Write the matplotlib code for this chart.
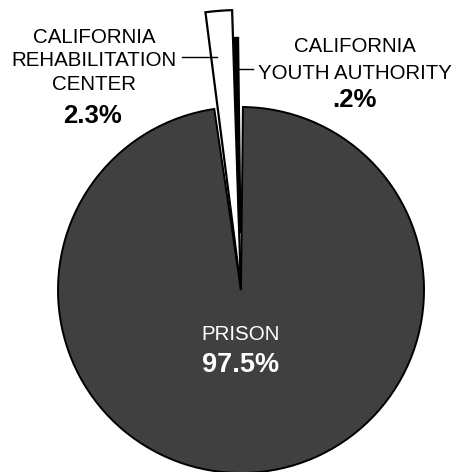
import matplotlib.pyplot as plt

plt.rcParams['font.family'] = ['Liberation Sans', 'DejaVu Sans']

# Данные
labels = ['PRISON', 'CALIFORNIA\nREHABILITATION\nCENTER', 'CALIFORNIA\nYOUTH AUTHORITY']
shares = [97.5, 2.3, 0.2]
share_text = ['97.5%', '2.3%', '.2%']
colors = ['#404040', 'white', 'black']

fig = plt.figure(figsize=(4.55, 4.72), dpi=100)
ax = fig.add_axes([0, 0, 1, 1])

cx, cy, r = 241, 182, 183
wedges, _ = ax.pie(shares, colors=colors, startangle=89.4, counterclock=False,
                   center=(cx, cy), radius=r, frame=True,
                   wedgeprops=dict(edgecolor='black', linewidth=1.4))
ax.set_xlim(0, 455)
ax.set_ylim(0, 472)
ax.axis('off')

# маленькие сектора вытянуты наружу
w = wedges[1]
w.set_radius(280)
w.set_theta1(w.theta1 + 1.7)
w.set_theta2(w.theta2 - 1.1)
w.set_linewidth(1.6)

b = wedges[2]
b.set_radius(252)
b.set_width(194)
b.set_theta1(b.theta1 + 1.3)
b.set_theta2(b.theta2 + 1.3)
b.set_linewidth(1.8)

# подписи
ax.text(241, 137, labels[0], ha='center', va='center', fontsize=14.8, color='white')
ax.text(241, 107, share_text[0], ha='center', va='center', fontsize=19.5,
        fontweight='bold', color='white')

ax.text(94, 411, labels[1], ha='center', va='center', fontsize=14.8, linespacing=1.32)
ax.text(93, 356, share_text[1], ha='center', va='center', fontsize=18.5, fontweight='bold')
ax.plot([182, 217], [415, 415], color='black', linewidth=1)

ax.text(355, 412, labels[2], ha='center', va='center', fontsize=14.7, linespacing=1.52)
ax.text(354, 372, share_text[2], ha='center', va='center', fontsize=18.5, fontweight='bold')
ax.plot([239, 253], [403, 403], color='black', linewidth=1)

plt.savefig('out.png', dpi=100)
